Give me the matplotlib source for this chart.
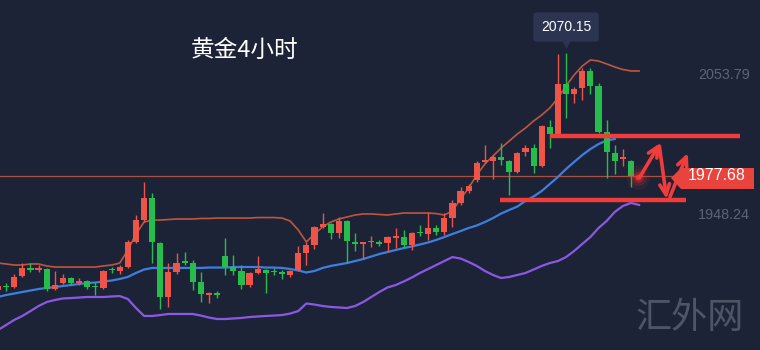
import matplotlib
matplotlib.use('Agg')
import matplotlib.pyplot as plt
import numpy as np
from matplotlib.patches import Polygon

plt.rcParams['font.family'] = ['Noto Sans CJK SC', 'DejaVu Sans']

# ---------------- data ----------------
opens = [1891.7,1894.3,1893.9,1902.2,1907.9,1907.1,1907.5,1892.4,1896.9,1900.7,
         1896.9,1898.5,1894.3,1893.2,1907.1,1906.0,1909.0,1927.9,1944.4,1961.0,
         1927.1,1886.4,1905.2,1913.2,1912.0,1897.7,1887.9,1889.4,1917.3,1909.0,
         1906.0,1895.4,1904.5,1906.8,1905.6,1904.9,1903.0,1906.8,1919.6,1925.6,
         1939.2,1941.4,1934.6,1943.7,1927.9,1926.7,1927.5,1927.5,1927.1,1931.2,
         1931.6,1925.6,1935.0,1933.9,1938.4,1935.4,1945.9,1957.3,1966.3,1974.6,
         1988.2,1988.9,1991.9,1988.9,1980.6,1995.7,1998.7,1985.1,2014.6,2009.3,
         2047.0,2039.4,2044.0,2056.8,2045.5,2010.8,1995.0,1990.8,1988.9]
closes = [1894.7,1893.6,1901.5,1908.3,1907.1,1907.9,1892.4,1895.4,1900.7,1896.9,
          1898.5,1893.9,1893.6,1906.0,1906.4,1909.0,1927.9,1944.4,1961.0,1927.9,
          1886.4,1905.2,1912.0,1912.4,1897.7,1888.6,1889.4,1887.9,1909.0,1906.0,
          1895.4,1904.5,1907.5,1904.5,1904.9,1904.1,1906.0,1919.6,1925.6,1939.2,
          1941.4,1934.6,1943.7,1928.6,1926.4,1927.5,1928.2,1926.7,1931.6,1932.0,
          1925.6,1934.6,1934.3,1938.4,1935.4,1945.9,1957.3,1966.3,1970.1,1987.4,
          1989.7,1991.9,1989.7,1980.6,1995.0,1998.7,1985.1,2015.3,2009.3,2047.0,
          2039.4,2043.2,2056.8,2045.5,2010.8,1995.7,1988.9,1991.6,1977.68]
highs = [1896.2,1896.9,1903.7,1912.0,1912.0,1910.5,1908.3,1906.0,1903.7,1901.5,
         1900.7,1899.2,1897.7,1906.8,1909.0,1910.5,1929.4,1948.2,1973.1,1964.8,
         1927.9,1912.0,1919.6,1920.3,1914.3,1905.2,1890.2,1890.9,1930.9,1918.1,
         1910.5,1905.2,1917.3,1907.5,1908.3,1906.8,1906.8,1924.8,1927.9,1939.9,
         1949.7,1942.2,1946.7,1944.4,1934.6,1927.9,1932.4,1929.4,1932.4,1938.4,
         1936.9,1935.4,1940.7,1949.7,1940.7,1949.7,1959.5,1969.3,1971.6,1988.9,
         2001.0,1993.4,2002.5,1989.7,1995.7,2001.0,2001.7,2016.1,2019.8,2069.6,
         2070.15,2044.7,2059.0,2059.0,2047.7,2019.8,2001.0,1998.0,1989.7]
lows = [1890.2,1890.9,1893.2,1901.5,1905.2,1905.2,1890.9,1892.0,1896.2,1895.4,
        1895.4,1892.4,1887.9,1892.4,1904.5,1903.7,1908.3,1927.1,1942.9,1912.0,
        1877.3,1878.8,1903.7,1910.5,1891.7,1882.6,1881.9,1885.6,1903.0,1903.0,
        1892.4,1893.9,1903.7,1889.4,1903.0,1900.0,1901.5,1906.0,1910.5,1922.6,
        1938.4,1930.1,1930.9,1912.0,1921.1,1915.0,1924.1,1924.8,1920.3,1923.3,
        1923.3,1921.8,1932.4,1929.4,1933.1,1933.1,1939.2,1955.8,1964.8,1973.1,
        1987.4,1975.4,1985.9,1963.3,1979.9,1992.6,1979.9,1984.4,1998.7,2008.5,
        2021.3,2032.6,2034.9,2039.4,2010.0,1976.1,1979.1,1985.1,1969.3]

boll_upper = [1912.0,1911.3,1910.5,1910.5,1911.3,1911.3,1909.8,1909.0,1909.0,1909.0,
              1909.0,1909.0,1909.0,1909.8,1910.5,1912.0,1921.8,1933.9,1942.9,1944.4,
              1944.4,1944.8,1945.2,1945.2,1945.2,1945.6,1945.6,1945.9,1945.9,1945.9,
              1945.9,1945.9,1946.3,1946.3,1946.3,1945.9,1943.7,1936.9,1927.9,1933.9,
              1939.2,1942.9,1945.2,1946.7,1948.2,1949.0,1949.0,1948.6,1948.2,1949.0,
              1949.7,1949.7,1949.7,1949.7,1949.3,1948.2,1951.2,1960.3,1968.6,1978.4,
              1986.7,1992.7,1998.7,2004.0,2009.3,2013.8,2019.1,2023.6,2028.9,2036.4,
              2045.5,2053.8,2060.5,2065.1,2064.3,2062.1,2059.8,2057.9,2056.8,2056.8]
boll_mid = [1886.4,1887.9,1889.0,1890.2,1891.3,1892.4,1893.2,1893.9,1894.7,1895.4,
            1896.2,1896.9,1897.3,1898.1,1898.8,1900.0,1901.5,1904.5,1907.1,1908.3,
            1908.3,1908.3,1908.3,1908.3,1908.3,1908.3,1908.6,1908.6,1908.6,1909.0,
            1909.0,1909.0,1909.0,1908.6,1908.6,1908.3,1907.5,1906.4,1904.9,1906.0,
            1908.3,1909.8,1910.9,1912.0,1913.5,1915.0,1916.9,1918.8,1920.3,1921.8,
            1923.3,1924.5,1926.0,1927.5,1929.4,1931.6,1933.9,1936.1,1938.4,1940.3,
            1942.9,1945.9,1949.3,1952.0,1954.6,1958.8,1962.2,1966.3,1971.6,1976.9,
            1982.9,1988.2,1993.4,1997.9,2001.7,2004.4,2005.5]
boll_lower = [1861.5,1865.3,1869.1,1872.1,1875.8,1879.6,1882.6,1884.1,1885.3,1885.6,
              1886.0,1886.4,1886.4,1886.4,1886.8,1887.1,1884.9,1878.1,1872.1,1872.1,
              1872.8,1873.6,1873.6,1873.6,1873.6,1872.4,1870.9,1869.8,1869.8,1870.2,
              1870.6,1871.3,1871.7,1872.1,1872.4,1872.8,1873.9,1875.8,1881.5,1880.7,
              1879.6,1878.9,1878.5,1878.1,1879.6,1882.6,1886.4,1890.2,1893.6,1895.4,
              1898.1,1901.1,1904.5,1907.5,1910.5,1913.5,1916.5,1915.4,1912.8,1909.8,
              1906.0,1903.0,1900.7,1901.5,1903.0,1904.5,1907.1,1909.8,1912.0,1913.5,
              1916.5,1921.1,1926.4,1931.6,1938.4,1943.7,1950.5,1955.0,1957.3,1955.8]

last_price = 1977.68
peak_price = 2070.15
upper_label = 2053.79
lower_label = 1948.24
resistance = 2007.8
resistance_span = (68.0, 91.4)
support = 1959.5
support_span = (61.9, 84.8)
# hand-drawn forecast arrows (index, price)
arrow_x = [79.1, 81.6, 81.5, 82.4, 82.8, 85.0]
arrow_y = [1976.9, 2002.5, 2000.2, 1960.3, 1961.8, 1995.0]
title = '黄金4小时'
watermark = '汇外网'

# ---------------- style ----------------
BG = '#1d2336'
RED = '#ee5448'
GREEN = '#27bd4c'
LINE_RED = '#f23b3b'
NUMFONT = ['Liberation Sans', 'DejaVu Sans']

fig = plt.figure(figsize=(7.6, 3.5), dpi=100)
fig.patch.set_facecolor(BG)
ax = fig.add_axes([0, 0, 1, 1])
ax.set_facecolor(BG)
ax.set_xlim(0.2465, 93.90)
ax.set_ylim(1846.44, 2110.3)
ax.axis('off')

o = np.array(opens); c = np.array(closes); h = np.array(highs); l = np.array(lows)
n = len(o)
x = np.arange(n)
up = c >= o
cols = np.where(up, RED, GREEN)

# bands
ax.plot(np.arange(len(boll_upper)), boll_upper, color='#c0553f', lw=1.2, zorder=2)
ax.plot(np.arange(len(boll_mid)), boll_mid, color='#3d7fe0', lw=1.6, zorder=2)
ax.plot(np.arange(len(boll_lower)), boll_lower, color='#8b58e4', lw=1.6, zorder=2)

# current price line
ax.axhline(last_price, xmin=0, xmax=680 / 760, color='#a8503f', lw=0.9, zorder=1)

# candles
ax.vlines(x, l, h, colors=cols, lw=1.0, zorder=3)
bottom = np.minimum(o, c)
height = np.maximum(np.abs(c - o), 1.4)
ax.bar(x, height, bottom=bottom, width=0.76, color=cols, linewidth=0, zorder=4)

# levels
ax.hlines(resistance, *resistance_span, color=LINE_RED, lw=3.2, zorder=5)
ax.hlines(support, *support_span, color=LINE_RED, lw=3.2, zorder=5)

# glow dot at last candle
for s, a in [(300, 0.08), (150, 0.15), (60, 0.3), (16, 0.9)]:
    ax.scatter([arrow_x[0] - 0.2], [arrow_y[0]], s=s, color='#ff3030', alpha=a,
               linewidths=0, zorder=6)

# arrows
for k in range(0, len(arrow_x), 2):
    ax.annotate('', xy=(arrow_x[k + 1], arrow_y[k + 1]), xytext=(arrow_x[k], arrow_y[k]),
                arrowprops=dict(arrowstyle='->,head_length=0.75,head_width=0.35',
                                color=LINE_RED, lw=2.6, shrinkA=0, shrinkB=0),
                zorder=7)

# tooltip
ax.text(70, 2089.9, f'{peak_price:.2f}', ha='center', va='center', color='white',
        fontsize=10, family=NUMFONT, zorder=8,
        bbox=dict(boxstyle='round,pad=0.55,rounding_size=0.25', fc='#2b3551', ec='none'))
ax.plot([70], [2078.3], marker='v', ms=7, color='#2b3551', zorder=8)

# right-hand labels
ty = ax.get_yaxis_transform()
ax.text(0.987, upper_label, f'{upper_label:.2f}', transform=ty, ha='right', va='center',
        color='#5c6377', fontsize=10.4, family=NUMFONT)
ax.text(0.987, lower_label, f'{lower_label:.2f}', transform=ty, ha='right', va='center',
        color='#5c6377', fontsize=10.4, family=NUMFONT)

W, H = 760.0, 350.0
pts = [(671, 178), (681, 168), (754, 168), (754, 189), (681, 189)]
poly = Polygon([(px / W, 1 - py / H) for px, py in pts], closed=True,
               transform=ax.transAxes, fc='#e8433d', ec='none', zorder=8)
ax.add_patch(poly)
ax.text(717 / W, last_price, f'{last_price:.2f}', transform=ty, ha='center', va='center',
        color='white', fontsize=11.5, family=NUMFONT, zorder=9)

# title and watermark
ax.text(245 / W, 1 - 50 / H, title, transform=ax.transAxes, ha='center', va='center',
        color='white', fontsize=17, fontweight='medium')
ax.text(690 / W, 1 - 318 / H, watermark, transform=ax.transAxes, ha='center', va='center',
        color='#4d5567', fontsize=26, fontweight='light')

fig.savefig('out.png', dpi=100, facecolor=BG)
